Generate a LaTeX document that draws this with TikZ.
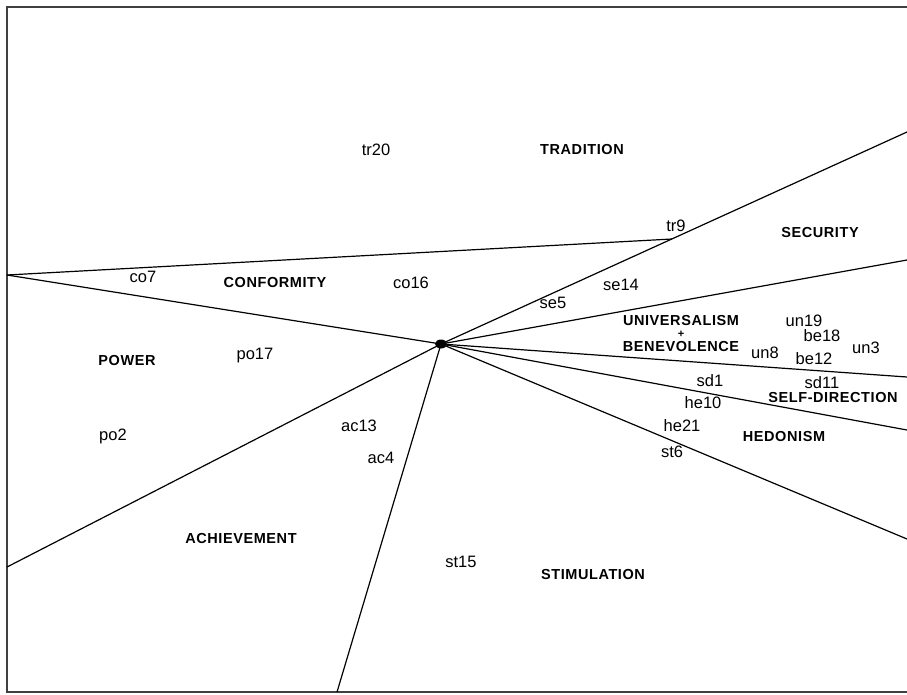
\documentclass[tikz,border=0pt]{standalone}
\usepackage{fontspec}
\setmainfont{Liberation Sans}
\newfontfamily\valuefont{Liberation Sans}[LetterSpace=4]
\usetikzlibrary{positioning,shapes.geometric}

\tikzset{
    item/.style={font=\fontsize{16.5}{17}\selectfont, inner sep=0pt},
    value/.style={font=\valuefont\fontsize{14.5}{15}\selectfont\bfseries, inner sep=0pt},
    axis/.style={line width=1.2pt, black},
    frame/.style={line width=1.6pt, black!75}
}

\begin{document}
\begin{tikzpicture}[x=1pt, y=-1pt]
    \useasboundingbox (0,0) rectangle (907,694);

    % Draw the frame
    \draw[frame] (907,7) -| (7,692) -- (907,692);

    % Draw the centre point and the end points
    \node[ellipse, fill=black, inner sep=0pt, minimum width=12pt, minimum height=9pt] (c) at (441,344) {};
    \coordinate (w)  at (7,275);
    \coordinate (t9) at (672,239);
    \coordinate (e1) at (907,132);
    \coordinate (e2) at (907,260);
    \coordinate (e3) at (907,377);
    \coordinate (e4) at (907,430);
    \coordinate (e5) at (907,539);
    \coordinate (s)  at (337,692);
    \coordinate (sw) at (7,567);

    % Draw the region boundaries
    \draw[axis] (w) -- (t9);
    \draw[axis] (w) -- (c.center);
    \foreach \e in {e1,e2,e3,e4,e5,s,sw}
        \draw[axis] (c.center) -- (\e);

    % Add the value names
    \node[value] (trad) at (582,150) {TRADITION};
    \node[value] (secu) at (820,233) {SECURITY};
    \node[value] (conf) at (275,283) {CONFORMITY};
    \node[value] (univ) at (681,321) {UNIVERSALISM};
    \node[value, font=\valuefont\fontsize{11}{11}\selectfont\bfseries] (plus) at (681,334) {+};
    \node[value] (bene) at (681,347) {BENEVOLENCE};
    \node[value] (powr) at (127,361) {POWER};
    \node[value] (self) at (833,397) {SELF-DIRECTION};
    \node[value] (hedo) at (784,436) {HEDONISM};
    \node[value] (achi) at (241,538) {ACHIEVEMENT};
    \node[value] (stim) at (593,574) {STIMULATION};

    % Add the items
    \node[item] (tr20) at (376,150) {tr20};
    \node[item] (tr9)  at (676,226) {tr9};
    \node[item] (co7)  at (143,277) {co7};
    \node[item] (co16) at (411,283) {co16};
    \node[item] (se5)  at (553,303) {se5};
    \node[item] (se14) at (621,285) {se14};
    \node[item] (un19) at (804,321) {un19};
    \node[item] (be18) at (822,336) {be18};
    \node[item] (un3)  at (866,348) {un3};
    \node[item] (un8)  at (765,353) {un8};
    \node[item] (be12) at (814,359) {be12};
    \node[item] (po17) at (255,356) {po17};
    \node[item] (sd1)  at (710,381) {sd1};
    \node[item] (sd11) at (822,383) {sd11};
    \node[item] (he10) at (703,403) {he10};
    \node[item] (he21) at (682,426) {he21};
    \node[item] (st6)  at (672,452) {st6};
    \node[item] (po2)  at (113,436) {po2};
    \node[item] (ac13) at (359,426) {ac13};
    \node[item] (ac4)  at (381,458) {ac4};
    \node[item] (st15) at (461,562) {st15};
\end{tikzpicture}
\end{document}
